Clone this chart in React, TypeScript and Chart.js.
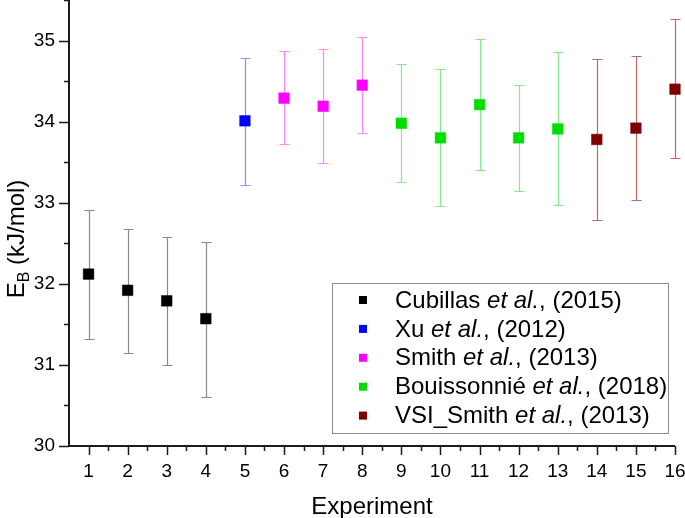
import React, { useEffect, useRef } from 'react';
import { Chart, registerables } from 'chart.js';
Chart.register(...registerables);

const FONT = "Arial, 'Liberation Sans', sans-serif";

const experiments = [1, 2, 3, 4, 5, 6, 7, 8, 9, 10, 11, 12, 13, 14, 15, 16];
const energies = [32.12, 31.92, 31.79, 31.57, 34.01, 34.29, 34.19, 34.45, 33.98, 33.80, 34.21, 33.80, 33.91, 33.78, 33.92, 34.40];
const errLow = [31.32, 31.15, 31.00, 30.61, 33.22, 33.72, 33.49, 33.86, 33.26, 32.96, 33.40, 33.15, 32.97, 32.79, 33.03, 33.55];
const errHigh = [32.91, 32.68, 32.58, 32.52, 34.79, 34.87, 34.90, 35.04, 34.71, 34.65, 35.02, 34.45, 34.86, 34.77, 34.81, 35.26];
const seriesOfPoint = [0, 0, 0, 0, 1, 2, 2, 2, 3, 3, 3, 3, 3, 4, 4, 4];
const seriesAuthors = ['Cubillas', 'Xu', 'Smith', 'Bouissonnié', 'VSI_Smith'];
const seriesYears = ['2015', '2012', '2013', '2018', '2013'];
const seriesColors = ['#000000', '#0000ff', '#ff00ff', '#00dd00', '#800000'];
const barColors = ['#8a8a8a', '#8c8cff', '#ff88ff', '#88e888', '#c06868'];
const yTicks = [30, 31, 32, 33, 34, 35];
const xTicks = experiments;

const errorBarPlugin = {
  id: 'errorBars',
  beforeDatasetsDraw(chart: any) {
    const ctx = chart.ctx;
    const xs = chart.scales.x;
    const ys = chart.scales.y;
    ctx.save();
    chart.data.datasets.forEach((ds: any) => {
      ds.data.forEach((p: any) => {
        const x = Math.round(xs.getPixelForValue(p.x)) + 0.5;
        const y1 = Math.round(ys.getPixelForValue(p.lo)) + 0.5;
        const y2 = Math.round(ys.getPixelForValue(p.hi)) + 0.5;
        ctx.strokeStyle = ds.barColor;
        ctx.lineWidth = 1.2;
        ctx.beginPath();
        ctx.moveTo(x, y1);
        ctx.lineTo(x, y2);
        ctx.moveTo(x - 5, y1);
        ctx.lineTo(x + 5, y1);
        ctx.moveTo(x - 5, y2);
        ctx.lineTo(x + 5, y2);
        ctx.stroke();
      });
    });
    ctx.restore();
  },
};

const decorPlugin = {
  id: 'decor',
  beforeDatasetsDraw(chart: any) {
    const ctx = chart.ctx;
    const { left, right, top, bottom } = chart.chartArea;
    const xs = chart.scales.x;
    const ys = chart.scales.y;
    ctx.save();
    ctx.strokeStyle = '#1a1a1a';
    ctx.lineWidth = 2;
    ctx.beginPath();
    ctx.moveTo(left, top);
    ctx.lineTo(left, bottom);
    ctx.lineTo(right, bottom);
    ctx.stroke();
    ctx.lineWidth = 1.5;
    ctx.beginPath();
    for (let v = 30; v <= 35.5; v += 0.5) {
      const y = Math.round(ys.getPixelForValue(v)) + 0.5;
      const len = Number.isInteger(v) ? 10 : 5;
      ctx.moveTo(left - len, y);
      ctx.lineTo(left, y);
    }
    for (let v = 1; v <= 16; v += 0.5) {
      const x = Math.round(xs.getPixelForValue(v)) + 0.5;
      const len = Number.isInteger(v) ? 9 : 5;
      ctx.moveTo(x, bottom);
      ctx.lineTo(x, bottom + len);
    }
    ctx.stroke();
    ctx.restore();
  },
  afterDraw(chart: any) {
    const ctx = chart.ctx;
    const { left, right } = chart.chartArea;
    ctx.save();
    // axis titles
    ctx.fillStyle = '#000';
    ctx.textBaseline = 'alphabetic';
    ctx.textAlign = 'center';
    ctx.font = `24px ${FONT}`;
    ctx.fillText('Experiment', (left + right) / 2, 514);

    ctx.save();
    ctx.translate(24, 239);
    ctx.rotate(-Math.PI / 2);
    ctx.textAlign = 'left';
    ctx.textBaseline = 'alphabetic';
    ctx.font = `24px ${FONT}`;
    const wE = ctx.measureText('E').width;
    ctx.font = `16px ${FONT}`;
    const wB = ctx.measureText('B').width;
    ctx.font = `24px ${FONT}`;
    const wRest = ctx.measureText(' (kJ/mol)').width;
    const total = wE + wB + wRest;
    let cx = -total / 2;
    ctx.fillText('E', cx, 0);
    cx += wE;
    ctx.font = `16px ${FONT}`;
    ctx.fillText('B', cx, 5);
    cx += wB;
    ctx.font = `24px ${FONT}`;
    ctx.fillText(' (kJ/mol)', cx, 0);
    ctx.restore();

    // legend
    ctx.fillStyle = '#fff';
    ctx.fillRect(332.5, 283.5, 336, 150);
    ctx.strokeStyle = '#8c8c8c';
    ctx.lineWidth = 1;
    ctx.strokeRect(332.5, 283.5, 336, 150);
    ctx.textAlign = 'left';
    ctx.textBaseline = 'middle';
    seriesAuthors.forEach((name, i) => {
      const yc = 300 + i * 28.9;
      ctx.fillStyle = seriesColors[i];
      ctx.fillRect(359, yc - 4, 8, 8);
      ctx.fillStyle = '#000';
      let tx = 395;
      const parts: [string, boolean][] = [[name + ' ', false], ['et al.', true], [', (' + seriesYears[i] + ')', false]];
      parts.forEach(([t, it]) => {
        ctx.font = `${it ? 'italic ' : ''}24px ${FONT}`;
        ctx.fillText(t, tx, yc + 1);
        tx += ctx.measureText(t).width;
      });
    });
    ctx.restore();
  },
};

export default function App() {
  const ref = useRef<HTMLCanvasElement | null>(null);
  useEffect(() => {
    if (!ref.current) return;
    const datasets = seriesAuthors.map((name, s) => ({
      label: `${name} et al., (${seriesYears[s]})`,
      data: experiments
        .map((x, i) => ({ x, y: energies[i], lo: errLow[i], hi: errHigh[i], s: seriesOfPoint[i] }))
        .filter((p) => p.s === s),
      backgroundColor: seriesColors[s],
      borderColor: seriesColors[s],
      barColor: barColors[s],
      pointStyle: 'rect',
      pointRadius: 7.5,
      pointBorderWidth: 0.5,
      showLine: false,
      clip: false,
    }));
    const chart = new Chart(ref.current, {
      type: 'scatter',
      data: { datasets: datasets as any },
      options: {
        animation: false,
        responsive: false,
        maintainAspectRatio: false,
        layout: { autoPadding: false, padding: { top: 0, right: 10, left: 0, bottom: 0 } },
        plugins: { legend: { display: false }, tooltip: { enabled: false } },
        scales: {
          x: {
            type: 'linear',
            min: 0.5,
            max: 16,
            afterBuildTicks: (s: any) => {
              s.ticks = xTicks.map((v) => ({ value: v }));
            },
            afterFit: (s: any) => {
              s.height = 72;
              s.paddingLeft = 0;
              s.paddingRight = 0;
            },
            grid: { display: false, drawTicks: false },
            border: { display: false },
            ticks: {
              padding: 14,
              color: '#000',
              font: { size: 19, family: FONT },
              maxRotation: 0,
              autoSkip: false,
              callback: (v: any) => String(v),
            },
          },
          y: {
            type: 'linear',
            min: 30,
            max: 35.5,
            afterBuildTicks: (s: any) => {
              s.ticks = yTicks.map((v) => ({ value: v }));
            },
            afterFit: (s: any) => {
              s.width = 69;
              s.paddingTop = 0;
              s.paddingBottom = 0;
            },
            grid: { display: false, drawTicks: false },
            border: { display: false },
            ticks: {
              padding: 14,
              color: '#000',
              font: { size: 19, family: FONT },
              autoSkip: false,
              callback: (v: any) => String(v),
            },
          },
        },
      },
      plugins: [errorBarPlugin, decorPlugin],
    });
    return () => chart.destroy();
  }, []);
  return (
    <div style={{ position: 'fixed', left: 0, top: 0, width: 685, height: 518, background: '#fff' }}>
      <canvas ref={ref} width={685} height={518} style={{ display: 'block' }} />
    </div>
  );
}
